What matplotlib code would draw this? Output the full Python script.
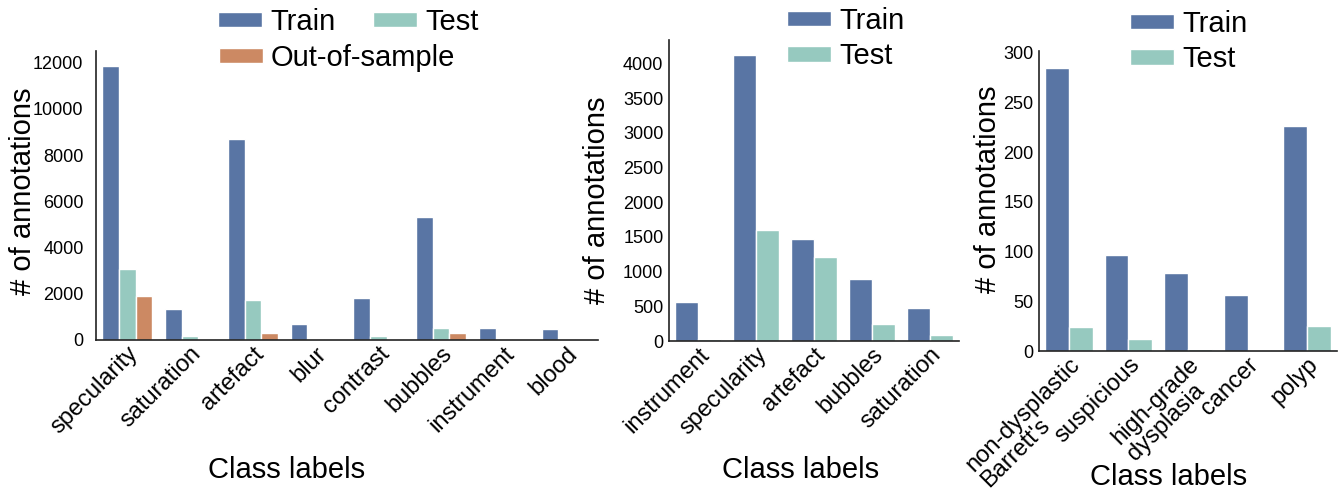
import numpy as np
import matplotlib
matplotlib.use('Agg')
import matplotlib.pyplot as plt
import matplotlib.transforms as mtransforms

plt.rcParams['font.family'] = ['Liberation Sans', 'DejaVu Sans']

# panel 1 - all classes
p1_classes = ['specularity', 'saturation', 'artefact', 'blur', 'contrast',
              'bubbles', 'instrument', 'blood']
p1_train = [11850, 1360, 8690, 690, 1820, 5310, 530, 460]
p1_test = [3060, 170, 1750, 60, 160, 530, 30, 60]
p1_oos = [1910, 30, 320, 0, 30, 320, 20, 0]

# panel 2 - detection subset
p2_classes = ['instrument', 'specularity', 'artefact', 'bubbles', 'saturation']
p2_train = [564, 4130, 1475, 892, 472]
p2_test = [34, 1605, 1205, 250, 92]

# panel 3 - disease classes
p3_classes = ["non-dysplastic\nBarrett's", 'suspicious', 'high-grade\ndysplasia',
              'cancer', 'polyp']
p3_train = [285, 97, 79, 56, 227]
p3_test = [24, 12, 2, 1.5, 25]

c_train = '#5975A4'
c_test = '#96C9BF'
c_oos = '#CC8963'

W, H = 1341, 494
fig = plt.figure(figsize=(W / 100, H / 100), dpi=100)


def px_axes(l, r, t, b):
    return fig.add_axes([l / W, 1 - b / H, (r - l) / W, (b - t) / H])


def style(ax, classes, ypad, yl_x, yl_y, xl_x, xl_y):
    for s in ['top', 'right']:
        ax.spines[s].set_visible(False)
    for s in ['left', 'bottom']:
        ax.spines[s].set_color('#222222')
        ax.spines[s].set_linewidth(1.2)
    ax.set_xlim(-0.5, len(classes) - 0.5)
    ax.set_xticks(np.arange(len(classes)))
    ax.set_xticklabels(classes, rotation=45, ha='right', va='top',
                       rotation_mode='anchor', fontsize=17, multialignment='left',
                       linespacing=1.0)
    off = mtransforms.ScaledTranslation(3 / 100, -3 / 100, fig.dpi_scale_trans)
    for lab in ax.get_xticklabels():
        lab.set_transform(lab.get_transform() + off)
    ax.tick_params(axis='both', length=0)
    ax.tick_params(axis='y', labelsize=13, pad=ypad)
    ax.tick_params(axis='x', pad=2)
    ax.set_ylabel('# of annotations', fontsize=21)
    ax.yaxis.set_label_coords(yl_x, yl_y)
    ax.yaxis.label.set_verticalalignment('center')
    ax.set_xlabel('Class labels', fontsize=21)
    ax.xaxis.set_label_coords(xl_x, xl_y)
    ax.xaxis.label.set_verticalalignment('center')


def leg(ax, handles, labels, x, y, ncol=1):
    return ax.legend(handles, labels, loc='upper left', ncol=ncol,
                     bbox_to_anchor=(x / W, 1 - y / H), bbox_transform=fig.transFigure,
                     frameon=False, fontsize=21, borderpad=0, borderaxespad=0,
                     handlelength=1.5, handleheight=0.45, handletextpad=0.28,
                     columnspacing=1.3, labelspacing=0.25)


# ---- panel 1
ax1 = px_axes(96, 598, 51, 340)
x = np.arange(len(p1_classes))
bw = 0.8 / 3
b1 = ax1.bar(x - bw, p1_train, bw, color=c_train, edgecolor='white', linewidth=1)
b2 = ax1.bar(x, p1_test, bw, color=c_test, edgecolor='white', linewidth=1)
b3 = ax1.bar(x + bw, p1_oos, bw, color=c_oos, edgecolor='white', linewidth=1)
ax1.set_ylim(0, 12500)
ax1.set_yticks(np.arange(0, 12001, 2000))
style(ax1, p1_classes, 9, -0.145, 0.515, 0.38, -0.45)
l1 = leg(ax1, [b1, b2], ['Train', 'Test'], 218, 8, ncol=2)
ax1.add_artist(l1)
leg(ax1, [b3], ['Out-of-sample'], 219, 44)

# ---- panel 2
ax2 = px_axes(669, 959, 40, 341)
x = np.arange(len(p2_classes))
bw = 0.4
b1 = ax2.bar(x - bw / 2, p2_train, bw, color=c_train, edgecolor='white', linewidth=1)
b2 = ax2.bar(x + bw / 2, p2_test, bw, color=c_test, edgecolor='white', linewidth=1)
ax2.set_ylim(0, 4340)
ax2.set_yticks(np.arange(0, 4001, 500))
style(ax2, p2_classes, 4, -0.248, 0.468, 0.452, -0.428)
leg(ax2, [b1, b2], ['Train', 'Test'], 787, 7)

# ---- panel 3
ax3 = px_axes(1039, 1337, 51, 351)
x = np.arange(len(p3_classes))
b1 = ax3.bar(x - bw / 2, p3_train, bw, color=c_train, edgecolor='white', linewidth=1)
b2 = ax3.bar(x + bw / 2, p3_test, bw, color=c_test, edgecolor='white', linewidth=1)
ax3.set_ylim(0, 302)
ax3.set_yticks(np.arange(0, 301, 50))
style(ax3, p3_classes, 4, -0.171, 0.54, 0.436, -0.42)
leg(ax3, [b1, b2], ['Train', 'Test'], 1130, 10)

fig.savefig('out.png', dpi=100)
